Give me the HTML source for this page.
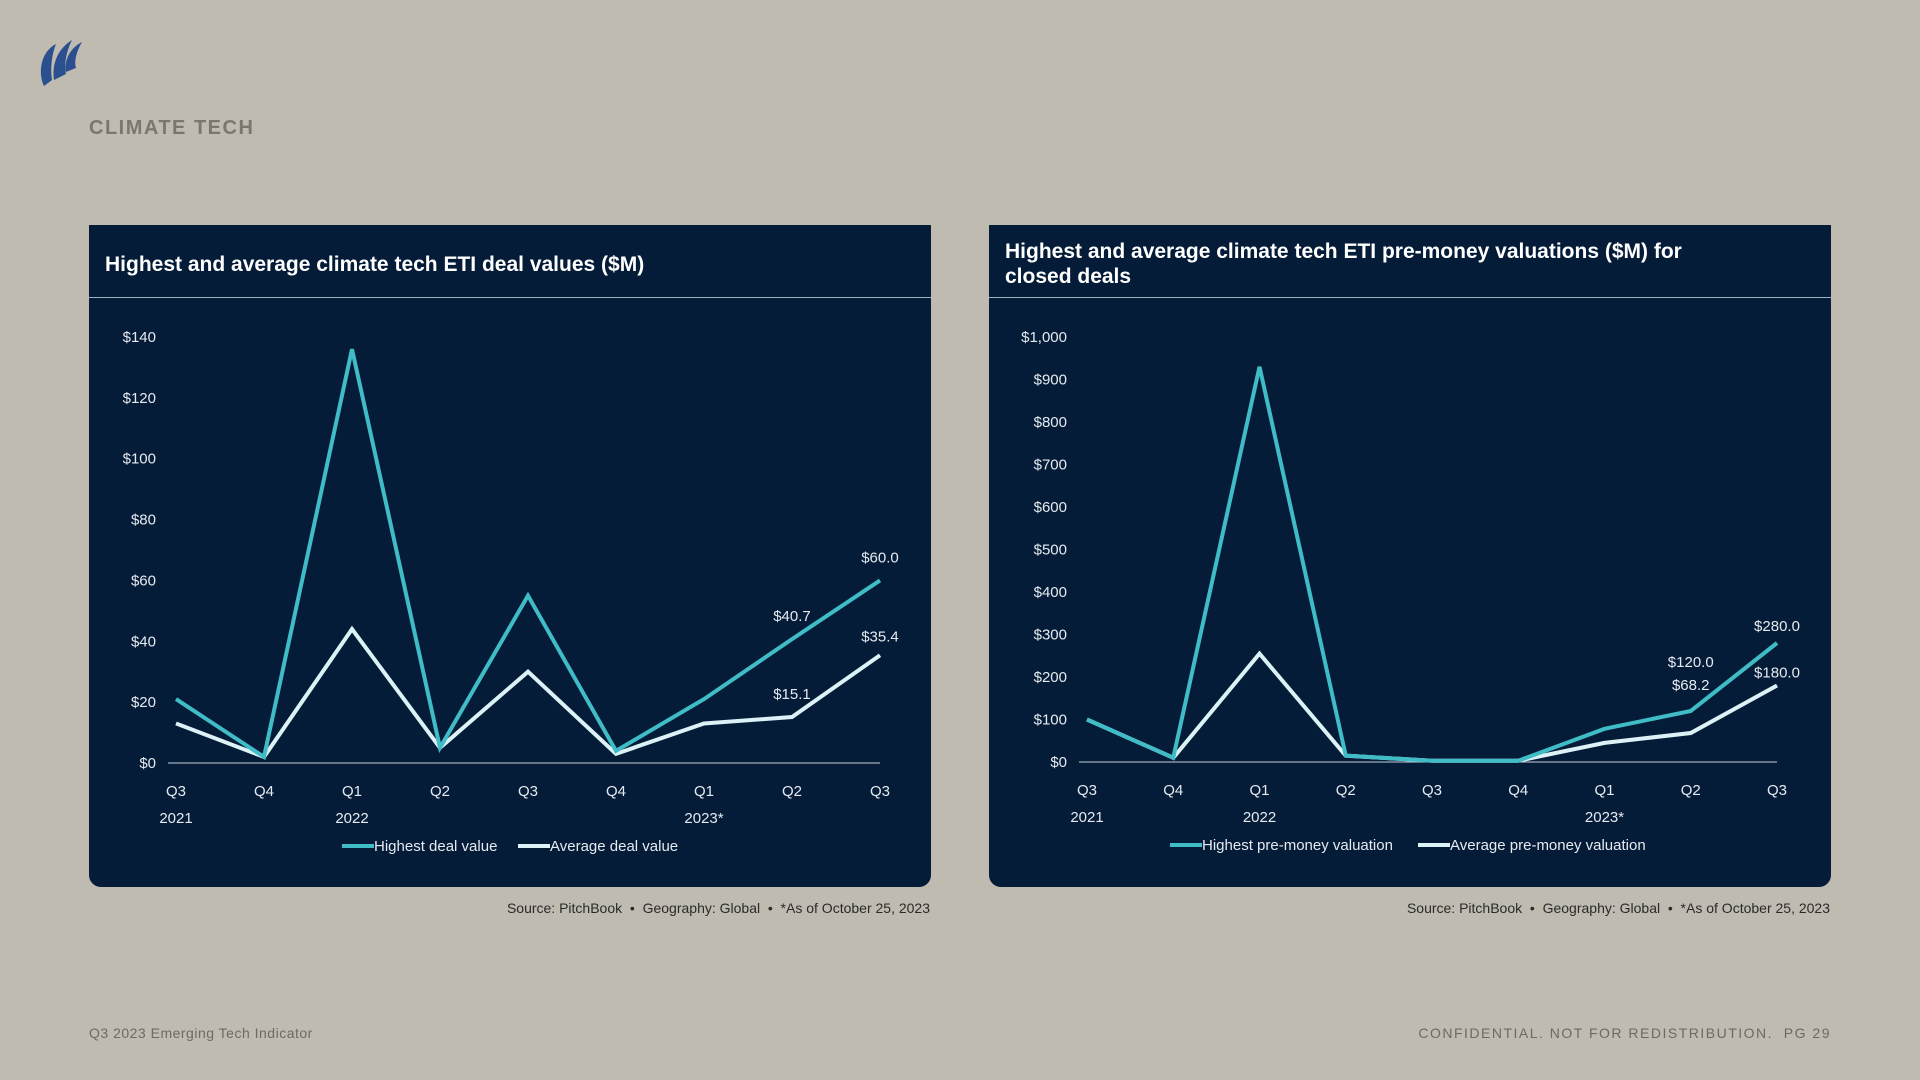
<!DOCTYPE html>
<html><head><meta charset="utf-8">
<style>
body{margin:0;width:1920px;height:1080px;background:#bfbbb0;font-family:"Liberation Sans",sans-serif;position:relative;overflow:hidden}
.abs{position:absolute}
.panel{position:absolute;background:#041c38;border-radius:0 0 12px 12px}
.ptitle{position:absolute;left:16px;color:#fff;font-weight:bold;font-size:21px;line-height:25px}
.hline{position:absolute;left:0;right:0;height:1px;background:#9fb0c0}
.src{position:absolute;font-size:14px;color:#2a2a2a;text-align:right}
</style></head><body>
<svg class="abs" style="left:36px;top:38px" width="50" height="52" viewBox="0 0 50 52">
<path d="M8 48 C2 36 4 14 20 6 C16 16 14 30 16 42 Z" fill="#2c4f8f"/>
<path d="M18 42 C16 28 20 12 36 2 C30 14 28 26 30 36 Z" fill="#2c4f8f"/>
<path d="M30 34 C28 22 34 10 46 4 C40 14 38 24 40 30 Z" fill="#2c4f8f"/>
</svg>
<div class="abs" style="left:89px;top:117px;font-size:20px;font-weight:bold;letter-spacing:1.5px;color:#7a776f">CLIMATE TECH</div>

<div class="panel" style="left:89px;top:225px;width:842px;height:662px">
<div class="ptitle" style="top:27px">Highest and average climate tech ETI deal values ($M)</div>
<div class="hline" style="top:72px"></div>
<svg id="c1" class="abs" style="left:0;top:0" width="842" height="662"></svg>
</div>
<div class="src" style="right:990px;top:900px">Source: PitchBook &nbsp;•&nbsp; Geography: Global &nbsp;•&nbsp; *As of October 25, 2023</div>

<div class="panel" style="left:989px;top:225px;width:842px;height:662px">
<div class="ptitle" style="top:14px">Highest and average climate tech ETI pre-money valuations ($M) for<br>closed deals</div>
<div class="hline" style="top:72px"></div>
<svg id="c2" class="abs" style="left:0;top:0" width="842" height="662"></svg>
</div>
<div class="src" style="right:90px;top:900px">Source: PitchBook &nbsp;•&nbsp; Geography: Global &nbsp;•&nbsp; *As of October 25, 2023</div>

<div class="abs" style="left:89px;top:1025px;font-size:14px;color:#6d6a63;letter-spacing:0.5px">Q3 2023 Emerging Tech Indicator</div>
<div class="abs" style="right:89px;top:1025px;font-size:14px;color:#6d6a63;letter-spacing:1.5px">CONFIDENTIAL. NOT FOR REDISTRIBUTION. &nbsp;PG 29</div>

<script>
const quarters=["Q3","Q4","Q1","Q2","Q3","Q4","Q1","Q2","Q3"];
const years=["2021","","2022","","","","2023*","",""];
const dealHighest=[21,2,136,5,55,4,21,40.7,60];
const dealAverage=[13,2,44,5,30,3,13,15.1,35.4];
const dealTicks=[0,20,40,60,80,100,120,140];
const valHighest=[100,10,930,15,3,3,78,120,280];
const valAverage=[100,10,255,15,3,3,45,68.2,180];
const valTicks=[0,100,200,300,400,500,600,700,800,900,1000];
const NS="http://www.w3.org/2000/svg";
function mk(svg,tag,attrs,txt){const e=document.createElementNS(NS,tag);for(const k in attrs)e.setAttribute(k,attrs[k]);if(txt!==undefined)e.textContent=txt;svg.appendChild(e);return e;}
function fmt(v){return "$"+v.toLocaleString("en-US");}
function draw(id,high,avg,ticks,x0,x1,y0,y1,maxV,leg,labels){
  const svg=document.getElementById(id);
  const X=i=>x0+(x1-x0)*i/(quarters.length-1);
  const Y=v=>y0-(y0-y1)*v/maxV;
  ticks.forEach(t=>{const e=mk(svg,"text",{x:x0-20,y:Y(t)+5,"text-anchor":"end",fill:"#e6eaf0","font-size":15},fmt(t));
    
    });
  const ax=mk(svg,"line",{x1:x0-8,x2:x1,y1:y0,y2:y0,stroke:"#c8d0d8","stroke-width":1});
  
  
  quarters.forEach((q,i)=>{const e=mk(svg,"text",{x:X(i),y:y0+33,"text-anchor":"middle",fill:"#e6eaf0","font-size":15},q);
    
    
    if(years[i]){const y=mk(svg,"text",{x:X(i),y:y0+60,"text-anchor":"middle",fill:"#e6eaf0","font-size":15},years[i]);
    
    }});
  [[avg,"#dcf2f6","average-line"],[high,"#3fbcc6","highest-line"]].forEach(([d,c,n])=>{
    const p=mk(svg,"polyline",{points:d.map((v,i)=>X(i)+","+Y(v)).join(" "),fill:"none",stroke:c,"stroke-width":4,"stroke-linejoin":"miter"});
    
    });
  labels.forEach(([arr,i,dx,dy])=>{const e=mk(svg,"text",{x:X(i)+dx,y:Y(arr[i])+dy,"text-anchor":"middle",fill:"#e6eaf0","font-size":15},"$"+arr[i].toFixed(1));
    
    });
  let lx=leg[0];const ly=y0+88;
  [["#3fbcc6",leg[1]],["#dcf2f6",leg[2]]].forEach(([c,t],k)=>{
    const l=mk(svg,"line",{x1:lx,x2:lx+32,y1:ly-5,y2:ly-5,stroke:c,"stroke-width":4});
    
    
    const tx=mk(svg,"text",{x:lx+32,y:ly,fill:"#e6eaf0","font-size":15},t);
    
    
    lx+=leg[3];});
}
draw("c1",dealHighest,dealAverage,dealTicks,87,791,538,112,140,[253,"Highest deal value","Average deal value",176],
  [[dealHighest,7,0,-18],[dealHighest,8,0,-18],[dealAverage,7,0,-18],[dealAverage,8,0,-14]]);
draw("c2",valHighest,valAverage,valTicks,98,788,537,112,1000,[181,"Highest pre-money valuation","Average pre-money valuation",248],
  [[valHighest,7,0,-44],[valAverage,7,0,-43],[valHighest,8,0,-12],[valAverage,8,0,-8]]);
</script>
</body></html>
